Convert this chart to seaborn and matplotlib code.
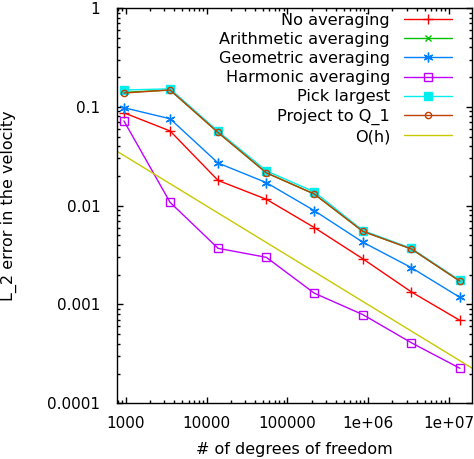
import matplotlib
matplotlib.use("Agg")
import matplotlib.pyplot as plt
import numpy as np
import pandas as pd
import seaborn as sns

# Datos (error L2 vs grados de libertad)
dofs = [950, 3540, 13900, 55000, 216000, 860000, 3.43e6, 1.37e7]

no_averaging = [0.087, 0.057, 0.018, 0.0116, 0.0060, 0.0029, 0.00134, 0.00069]
arithmetic = [0.140, 0.148, 0.055, 0.0215, 0.0131, 0.0055, 0.00365, 0.00172]
geometric = [0.098, 0.0757, 0.027, 0.0171, 0.0089, 0.00427, 0.00236, 0.00118]
harmonic = [0.072, 0.0108, 0.0037, 0.0030, 0.00130, 0.00079, 0.00041, 0.000226]
pick_largest = [0.148, 0.152, 0.0565, 0.0225, 0.0138, 0.0056, 0.0037, 0.00175]
project_q1 = [0.138, 0.148, 0.055, 0.0215, 0.0131, 0.0055, 0.00365, 0.00172]

oh_dofs = [780, 1.95e7]
oh_error = [0.0355, 0.000226]

xtick_vals = [1e3, 1e4, 1e5, 1e6, 1e7]
xtick_labels = ["1000", "10000", "100000", "1e+06", "1e+07"]
ytick_vals = [1e-4, 1e-3, 1e-2, 1e-1, 1]
ytick_labels = ["0.0001", "0.001", "0.01", "0.1", "1"]

# nombre, valores, color, marcador, relleno, tamano
series = [
    ("No averaging", no_averaging, "#ff0000", "+", "#ff0000", 7),
    ("Arithmetic averaging", arithmetic, "#00c000", "x", "#00c000", 5),
    ("Geometric averaging", geometric, "#0080ff", (6, 2, 0), "#0080ff", 7),
    ("Harmonic averaging", harmonic, "#c000ff", "s", "none", 5.5),
    ("Pick largest", pick_largest, "#00eeee", "s", "#00eeee", 6),
    ("Project to Q_1", project_q1, "#c04000", "o", "none", 4.5),
]

sns.set_style("ticks")
plt.rcParams["font.family"] = ["DejaVu Sans"]
plt.rcParams["font.size"] = 11
plt.rcParams["text.color"] = "black"
plt.rcParams["axes.labelcolor"] = "black"
plt.rcParams["xtick.color"] = "black"
plt.rcParams["ytick.color"] = "black"

fig = plt.figure(figsize=(4.74, 4.59), dpi=100)
ax = fig.add_axes([117 / 474, 1 - 403.3 / 459, (472.3 - 117) / 474, (403.3 - 8) / 459])

for nombre, valores, color, marcador, relleno, tam in series:
    df = pd.DataFrame({"dofs": dofs, "error": valores})
    sns.lineplot(
        data=df, x="dofs", y="error", ax=ax, color=color, marker=marcador,
        markerfacecolor=relleno, markeredgecolor=color, markersize=tam,
        markeredgewidth=1.0, linewidth=1.0, label=nombre,
    )

df_oh = pd.DataFrame({"dofs": oh_dofs, "error": oh_error})
sns.lineplot(data=df_oh, x="dofs", y="error", ax=ax, color="#c8c800",
             linewidth=1.0, label="O(h)")

ax.set_xscale("log")
ax.set_yscale("log")
ax.set_xlim(780, 1.95e7)
ax.set_ylim(1e-4, 1)
ax.set_xticks(xtick_vals)
ax.set_xticklabels(xtick_labels)
ax.set_yticks(ytick_vals)
ax.set_yticklabels(ytick_labels)

ax.tick_params(which="both", direction="in", top=True, right=True, width=1.0)
ax.tick_params(which="major", length=4, pad=9)
ax.tick_params(which="minor", length=2.2)
ax.tick_params(axis="y", which="major", pad=12)

for spine in ax.spines.values():
    spine.set_linewidth(1.0)
    spine.set_color("black")

ax.set_xlabel("# of degrees of freedom", labelpad=8, fontsize=11.5)
ax.set_ylabel("L_2 error in the velocity", labelpad=22, fontsize=11.5)

leg = ax.legend(
    loc="upper right", bbox_to_anchor=(0.943, 0.988), frameon=False,
    markerfirst=False, handlelength=3.0, handletextpad=0.85,
    labelspacing=0.26, borderpad=0, borderaxespad=0, fontsize=11.6,
)

fig.savefig("out.png", dpi=100)
